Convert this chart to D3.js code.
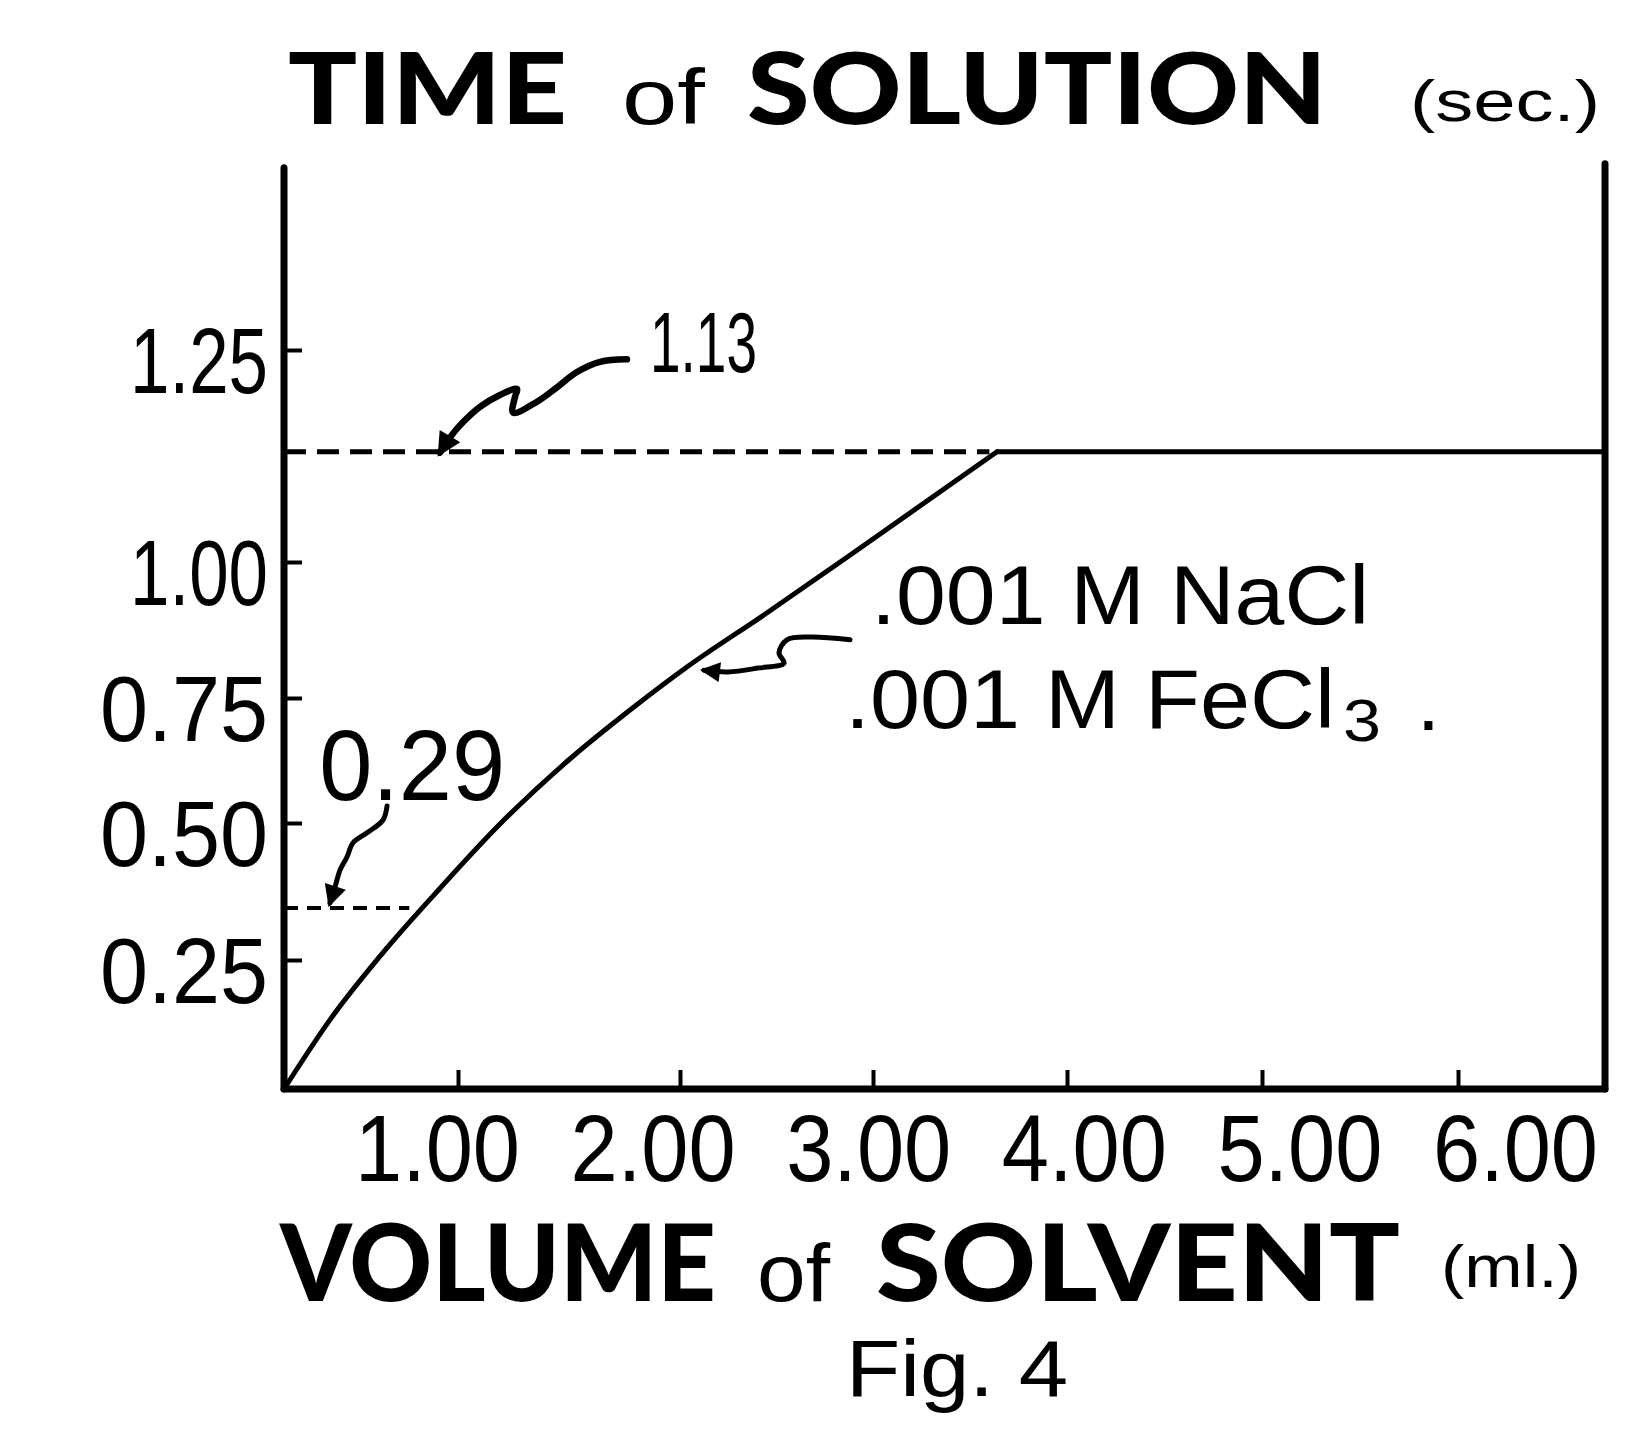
<!DOCTYPE html>
<html><head><meta charset="utf-8">
<script src="https://cdn.jsdelivr.net/npm/d3@7"></script>
<style>body{margin:0;background:#fff}</style></head>
<body><svg id="c" width="1626" height="1450"></svg>
<script>
// ---- data ----
const xTicks = [1, 2, 3, 4, 5, 6];
const yTicks = [0.25, 0.50, 0.75, 1.00, 1.25];
const volume = [0, 0.264, 0.592, 0.897, 1.189, 1.509, 1.775, 2.036, 2.44, 2.943, 3.639];
const time   = [0, 0.134, 0.272, 0.381, 0.498, 0.63, 0.726, 0.807, 0.904, 1.018, 1.13];
const plateauTime = 1.13;
const xMax = 6.75, yMax = 1.465;
const refHigh = {value: 1.13, label: "1.13", end: 3.6};
const refLow  = {value: 0.345, label: "0.29", end: 0.72};
const titleWords  = ["TIME", "of", "SOLUTION", "(sec.)"];
const xTitleWords = ["VOLUME", "of", "SOLVENT", "(ml.)"];
const figLabel = "Fig. 4";
const legendLines = [".001 M NaCl", ".001 M FeCl", "3", "."];
const arrowHigh = [[1.761,1.239],[1.640,1.236],[1.536,1.224],[1.446,1.206],[1.356,1.189],[1.248,1.176],[1.257,1.195],[1.266,1.204],[1.189,1.197],[1.099,1.183],[1.023,1.165],[0.954,1.147],[0.897,1.129]];
const arrowLow  = [[0.592,0.534],[0.569,0.506],[0.477,0.482],[0.397,0.464],[0.362,0.438],[0.322,0.414],[0.293,0.383],[0.264,0.354]];
const arrowLeg  = [[2.881,0.857],[2.679,0.862],[2.554,0.857],[2.513,0.833],[2.539,0.814],[2.404,0.805],[2.249,0.798],[2.124,0.801]];

// ---- scales (hand-drawn, uneven tick spacing) ----
const x = d3.scaleLinear().domain([0,1,2,3,4,5,6]).range([284,458,680,873,1067,1262,1458]);
const y = d3.scaleLinear().domain([0,0.25,0.5,0.75,1,1.25]).range([1089,960,823,698,562,350]);
const labelX = d3.scaleLinear().domain([1,6]).range([437,1515]);

const svg = d3.select("#c");
svg.append("rect").attr("width",1626).attr("height",1450).attr("fill","#fff");

const NUM = "'Liberation Sans', Arial, sans-serif";
const BOLD = "Lato, Inter, 'Open Sans', sans-serif";

const defs = svg.append("defs");
function marker(id, w, h){
  defs.append("marker").attr("id",id).attr("viewBox","0 -5 10 10").attr("refX",8).attr("refY",0)
    .attr("markerUnits","userSpaceOnUse").attr("markerWidth",w).attr("markerHeight",h).attr("orient","auto")
    .append("path").attr("d","M0,-5L10,0L0,5Z").attr("fill","#000");
}
marker("ahHigh", 28, 24); marker("ahLow", 26, 22); marker("ahLeg", 26, 20);

// ---- frame ----
const frame = svg.append("g").attr("stroke","#000").attr("stroke-width",7).attr("stroke-linecap","round");
frame.append("line").attr("x1",x(0)).attr("x2",x(0)).attr("y1",y(yMax)).attr("y2",y(0));
frame.append("line").attr("x1",x(0)).attr("x2",x(xMax)).attr("y1",y(0)).attr("y2",y(0));
frame.append("line").attr("x1",x(xMax)).attr("x2",x(xMax)).attr("y1",y(yMax)-4).attr("y2",y(0));

// ---- axes ----
const gx = svg.append("g").attr("transform",`translate(0,${y(0)})`)
  .call(d3.axisBottom(x).tickValues(xTicks).tickSizeInner(-19).tickSizeOuter(0).tickPadding(24).tickFormat(d3.format(".2f")));
gx.select(".domain").remove();
gx.selectAll(".tick line").attr("stroke","#000").attr("stroke-width",4);
gx.selectAll(".tick text").attr("fill","#000").attr("font-family",NUM).attr("font-size",95)
  .attr("textLength",165).attr("lengthAdjust","spacingAndGlyphs")
  .attr("dx", d => labelX(d) - x(d)).attr("dy","0.72em");

const gy = svg.append("g").attr("transform",`translate(${x(0)},0)`)
  .call(d3.axisLeft(y).tickValues(yTicks).tickSizeInner(-18).tickSizeOuter(0).tickPadding(16).tickFormat(d3.format(".2f")));
gy.select(".domain").remove();
gy.selectAll(".tick line").attr("stroke","#000").attr("stroke-width",4);
gy.selectAll(".tick text").attr("fill","#000").attr("font-family",NUM).attr("font-size",92)
  .attr("textLength", d => d >= 1 ? 138 : 168).attr("lengthAdjust","spacingAndGlyphs").attr("dy","0.46em");

// ---- reference dashed lines ----
svg.append("line").attr("x1",x(0)).attr("x2",x(refHigh.end)).attr("y1",y(refHigh.value)).attr("y2",y(refHigh.value))
  .attr("stroke","#000").attr("stroke-width",5).attr("stroke-dasharray","22 11");
svg.append("line").attr("x1",x(0)).attr("x2",x(refLow.end)).attr("y1",y(refLow.value)).attr("y2",y(refLow.value))
  .attr("stroke","#000").attr("stroke-width",4).attr("stroke-dasharray","14 9");

// ---- curve ----
const pts = volume.map((v,i)=>[v,time[i]]);
svg.append("path").datum(pts)
  .attr("d", d3.line().x(d=>x(d[0])).y(d=>y(d[1])).curve(d3.curveMonotoneX))
  .attr("fill","none").attr("stroke","#000").attr("stroke-width",5).attr("stroke-linecap","round");
svg.append("line").attr("x1",x(volume[volume.length-1])).attr("x2",x(xMax))
  .attr("y1",y(plateauTime)).attr("y2",y(plateauTime))
  .attr("stroke","#000").attr("stroke-width",5);

// ---- annotation arrows ----
const aLine = d3.line().x(d=>x(d[0])).y(d=>y(d[1])).curve(d3.curveCatmullRom.alpha(0.5));
svg.append("path").datum(arrowHigh).attr("d",aLine).attr("fill","none").attr("stroke","#000")
  .attr("stroke-width",6.5).attr("stroke-linecap","round").attr("stroke-linejoin","round").attr("marker-end","url(#ahHigh)");
svg.append("path").datum(arrowLow).attr("d",aLine).attr("fill","none").attr("stroke","#000")
  .attr("stroke-width",5).attr("stroke-linecap","round").attr("stroke-linejoin","round").attr("marker-end","url(#ahLow)");
svg.append("path").datum(arrowLeg).attr("d",aLine).attr("fill","none").attr("stroke","#000")
  .attr("stroke-width",5).attr("stroke-linecap","round").attr("stroke-linejoin","round").attr("marker-end","url(#ahLeg)");

function txt(s, px, py, size, len, family, weight){
  const t = svg.append("text").attr("x",px).attr("y",py).attr("font-size",size)
    .attr("font-family",family).attr("font-weight",weight||400).attr("fill","#000").text(s);
  if (len) t.attr("textLength",len).attr("lengthAdjust","spacingAndGlyphs");
  return t;
}

// annotation labels (data coords)
txt(refHigh.label, x(1.865), y(1.224), 86, 107, NUM);
txt(refLow.label, x(0.202), y(0.546), 100, 186, NUM);
txt(legendLines[0], x(2.99), y(0.886), 84, 498, NUM);
txt(legendLines[1], x(2.855), y(0.69), 84, 490, NUM);
txt(legendLines[2], x(5.413), y(0.664), 60, 38, NUM);
txt(legendLines[3], x(5.79), y(0.686), 84, null, NUM);

// ---- titles ----
txt(titleWords[0], 288, 124, 100, 279, BOLD, 900);
txt(titleWords[1], 622, 124, 78, 83, NUM);
txt(titleWords[2], 747, 124, 100, 580, BOLD, 900);
txt(titleWords[3], 1410, 121, 58, 190, NUM);

txt(xTitleWords[0], 280, 1301, 107, 436, BOLD, 900);
txt(xTitleWords[1], 757, 1301, 82, 73, NUM);
txt(xTitleWords[2], 876, 1301, 107, 524, BOLD, 900);
txt(xTitleWords[3], 1441, 1287, 60, 140, NUM);

txt(figLabel, 846, 1396, 80, 222, NUM);
</script></body></html>
